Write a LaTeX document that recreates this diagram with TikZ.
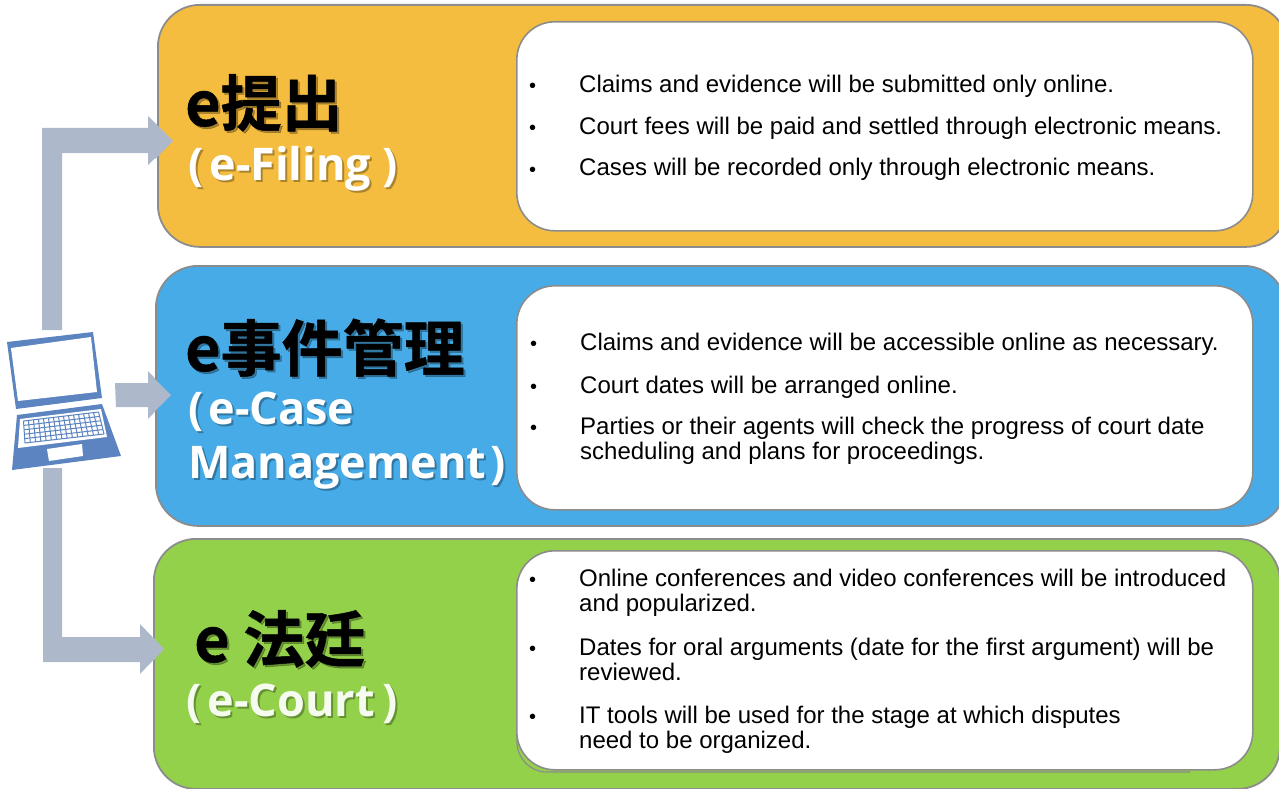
\documentclass[tikz,border=0pt]{standalone}
\usepackage{fontspec}
\usetikzlibrary{calc}
\setmainfont{Liberation Sans}
\newfontfamily\jpfont[BoldFont={Noto Sans CJK JP Bold},BoldFeatures={FakeBold=0.8}]{Noto Sans CJK JP}
\newfontfamily\subfont{Open Sans}
\definecolor{arrowgray}{HTML}{ADB9CA}
\definecolor{edgegray}{HTML}{8C8C8C}
\definecolor{pcblue}{HTML}{5B84C0}
\definecolor{fileorange}{HTML}{F5BD40}
\definecolor{caseblue}{HTML}{47ABE8}
\definecolor{courtgreen}{HTML}{93D14A}
\tikzset{
  band/.style={draw=edgegray,line width=1.8pt,rounded corners=42pt,minimum height=#1,inner sep=0pt,anchor=north west},
  card/.style={draw=edgegray,fill=white,line width=1.6pt,rounded corners=38pt,minimum width=736pt,minimum height=#1,inner sep=0pt,anchor=north west},
  blockarrow/.style={fill=arrowgray,draw=none},
  bul/.style={anchor=base west,inner sep=0pt,font=\fontsize{24}{25}\selectfont,align=left,text=black},
  dotmark/.style={anchor=base west,inner sep=0pt,font=\fontsize{20}{25}\selectfont,text=black},
  jptitle/.style={anchor=base west,inner sep=0pt,font=\jpfont\bfseries\fontsize{61}{62}\selectfont},
  subtitle/.style={anchor=base west,inner sep=0pt,font=\subfont\bfseries\fontsize{45}{54}\selectfont}
}
\newcommand{\jptitletext}[3]{%
  \node[jptitle,text=black,opacity=.3] at (#1+2,#2+2) {#3};
  \node[jptitle,text=black] at (#1,#2) {#3};}
\newcommand{\subtitletext}[4]{%
  \node[subtitle,text=black,opacity=.3] at (#1+2,#2+2) {#3};
  \node[subtitle,text=#4] at (#1,#2) {#3};}
\begin{document}
\begin{tikzpicture}[x=1pt,y=-1pt]
\useasboundingbox (0,0) rectangle (1279,789);
% arrows
\fill[blockarrow] (62,330) -- (62,153) -- (148,153) -- (148,116) -- (173,141) -- (148,165) -- (148,128) -- (42,128) -- (42,330) -- cycle;
\fill[blockarrow] (115,383) -- (148,383) -- (148,371) -- (171,395) -- (148,419) -- (148,407) -- (116,407) -- cycle;
\fill[blockarrow] (62,468) -- (62,637) -- (140,637) -- (140,624) -- (164,649) -- (140,674) -- (140,662) -- (43,662) -- (43,468) -- cycle;
% bands
\node[band=242pt,minimum width=1130pt,fill=fileorange] (fileband) at (157,4) {};
\node[band=260pt,minimum width=1130pt,fill=caseblue] (caseband) at (155,265) {};
\node[band=250pt,minimum width=1126pt,fill=courtgreen] (courtband) at (153,538) {};
% arrow tips that lie over the bands
\fill[blockarrow] (155,123) -- (173,141) -- (155,159) -- cycle;
\fill[blockarrow] (155,379) -- (171,395) -- (155,411) -- cycle;
\fill[blockarrow] (153,637) -- (164,649) -- (153,661) -- cycle;
% cards
\node[card=209pt] (filecard) at (516,21) {};
\node[card=224pt] (casecard) at (516,285) {};
\draw[edgegray,line width=1.2pt,rounded corners=30pt] (517,620) -- (517,772) -- (1190,772);
\node[card=219pt] (courtcard) at (516,550) {};
% laptop
\fill[pcblue] (7,342) -- (93,332) -- (102,398) -- (16,409) -- cycle;
\fill[white] (11,348) -- (91,337) -- (97,392) -- (18,401) -- cycle;
\fill[pcblue] (17,415) -- (102,404) -- (121,456) -- (12,470) -- cycle;
\fill[white] (20,419) -- (101,409) -- (107,437) -- (18,448) -- cycle;
\fill[white] (47,449) -- (82,444) -- (83,456) -- (49,461) -- cycle;
\coordinate (ka) at (23.5,421);
\coordinate (kb) at (98.5,412);
\coordinate (kc) at (104,434);
\coordinate (kd) at (25,443);
\foreach \t in {0,0.2,0.4,0.6,0.8,1}
  \draw[pcblue,line width=1pt] ($(ka)!\t!(kd)$) -- ($(kb)!\t!(kc)$);
\foreach \t in {0,0.0667,...,1.01}
  \draw[pcblue,line width=1pt] ($(ka)!\t!(kb)$) -- ($(kd)!\t!(kc)$);
% titles
\jptitletext{185}{126}{e提出}
\subtitletext{188}{180}{(\kern6pt e-Filing\kern11pt)}{white}
\jptitletext{185}{371}{e事件管理}
\subtitletext{188}{424}{(\kern5pt e-Case}{white}
\subtitletext{188}{478}{Management\kern4pt)}{white}
\jptitletext{194}{662}{e 法廷}
\subtitletext{186}{716}{(\kern6pt e-Court\kern8pt)}{white!92!courtgreen}
% bullets
\foreach \y in {93,135,176} \node[dotmark] at (529,\y) {•};
\node[bul] at (579,93) {Claims and evidence will be submitted only online.};
\node[bul] at (579,135) {Court fees will be paid and settled through electronic means.};
\node[bul] at (579,175) {Cases will be recorded only through electronic means.};
\foreach \y in {350,393,434} \node[dotmark] at (530,\y) {•};
\node[bul] at (580,350) {Claims and evidence will be accessible online as necessary.};
\node[bul] at (580,393) {Court dates will be arranged online.};
\node[bul] at (580,459) {Parties or their agents will check the progress of court date\\scheduling and plans for proceedings.};
\foreach \y in {586,655,723} \node[dotmark] at (529,\y) {•};
\node[bul] at (579,611) {Online conferences and video conferences will be introduced\\and popularized.};
\node[bul] at (579,680) {Dates for oral arguments (date for the first argument) will be\\reviewed.};
\node[bul] at (579,748) {IT tools will be used for the stage at which disputes\\need to be organized.};
\end{tikzpicture}
\end{document}
